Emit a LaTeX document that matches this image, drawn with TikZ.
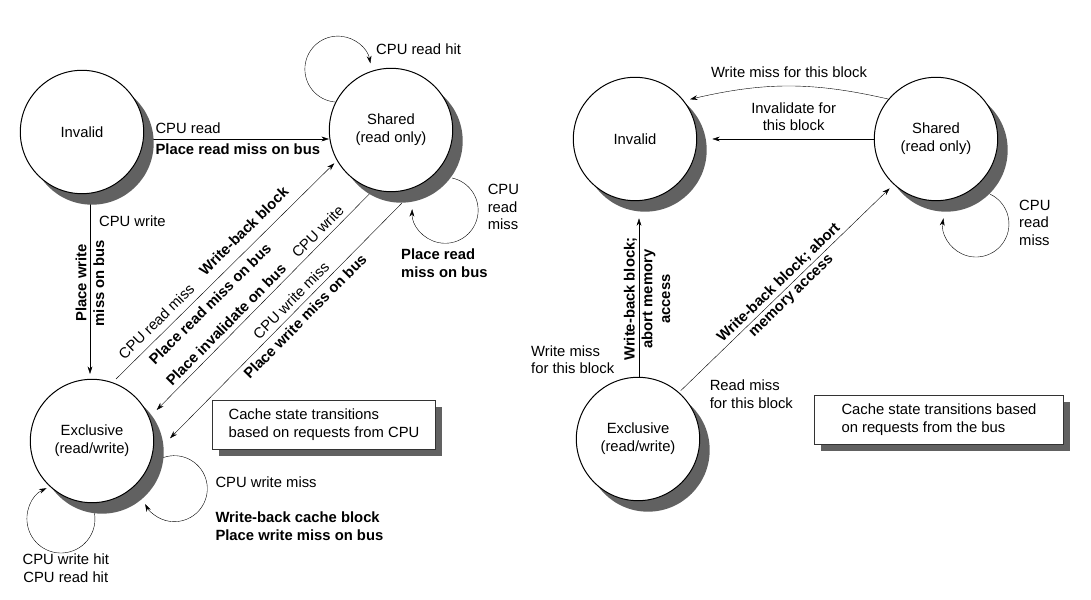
\documentclass[tikz,border=0pt]{standalone}
\usepackage{fontspec}
\setmainfont{Liberation Sans}
\usepackage{tikz}
\usetikzlibrary{calc,positioning,arrows.meta,shadows,backgrounds}
\definecolor{shade}{gray}{0.38}
\tikzset{
  cstate/.style={circle, draw, fill=white, minimum size=123.4pt, inner sep=0pt, align=center,
    drop shadow={shadow xshift=10pt, shadow yshift=-11pt, fill=shade, opacity=1}},
  notebox/.style={draw=black!80, fill=white, align=left, minimum height=48.6pt,
    drop shadow={shadow xshift=6.5pt, shadow yshift=-6.5pt, fill=shade, opacity=1}},
  free/.style={inner sep=0pt, align=left},
  bl/.style={font=\bfseries},
}
\begin{document}
\fontsize{14.8}{17.7}\selectfont
\begin{tikzpicture}[x=1pt, y=1pt, line width=1pt, >={Stealth[length=7.5pt,width=4.8pt]}]
\useasboundingbox (0,0) rectangle (1091,599);

% CPU side
\node[cstate] (invL) at (82,467) {Invalid};
\node[cstate] (shL) at (391,469) {Shared\\(read only)};
\node[cstate] (exL) at (92,158) {Exclusive\\(read/write)};
\node[notebox, minimum width=223.4pt] (noteL) at (324,174) {Cache state transitions\\based on requests from CPU};

% bus side
\node[cstate] (invR) at (635,460) {Invalid};
\node[cstate] (shR) at (936,460) {Shared\\(read only)};
\node[cstate] (exR) at (638,160) {Exclusive\\(read/write)};
\node[notebox, minimum width=248.6pt] (noteR) at (939,179) {Cache state transitions based\\on requests from the bus};

% free labels
\node[free, anchor=north west] (rdhitL) at (375.7,555.7) {CPU read hit};
\node[free, anchor=north west] (rdmissL) at (487.3,415.5) {CPU\\read\\miss};
\node[free, bl, anchor=north west] (plrdL) at (400.7,350.7) {Place read\\miss on bus};
\node[free, align=center, anchor=north] (wrhitL) at (65.8,45.7) {CPU write hit\\CPU read hit};
\node[free, anchor=north west] (wrmissL) at (215,122.3) {CPU write miss};
\node[free, bl, anchor=north west] (wbL) at (215,87.3) {Write-back cache block\\Place write miss on bus};
\node[free, anchor=north west] (wrmissR) at (530.7,254) {Write miss\\for this block};
\node[free, anchor=north west] (rdmissR) at (709.3,219.7) {Read miss\\for this block};
\node[free, anchor=north west] (cpumissR) at (1018.7,399.7) {CPU\\read\\miss};
\node[free, bl, align=center, rotate=90] (wbR) at (647,300) {Write-back block;\\abort memory\\access};

\begin{pgfonlayer}{background}
% CPU side transitions
\draw[->] ($(invL)+(60,-7)$) -- node[pos=.045, anchor=south west] (cpurd) {CPU read}
  node[pos=.045, anchor=north west, bl] (plrd) {Place read miss on bus} ($(shL)+(-62,-9)$);
\draw[->] ($(invL)+(8,-60)$) -- node[pos=.16, right=4pt] (cpuwr) {CPU write}
  node[midway, rotate=90, align=center, bl] (plwr) {Place write\\miss on bus} ($(exL)+(-2,67)$);
\draw[->] ($(exL)+(24,62)$) -- node[pos=.225, sloped, above=2pt] (cpurdm) {CPU read miss}
  node[pos=.635, sloped, above=5pt, bl] (wbblk) {Write-back block}
  node[pos=.39, sloped, below=2pt, bl] (plrdm) {Place read miss on bus} ($(shL)+(-56.7,-33.3)$);
\draw[<-] ($(exL)+(64.7,31)$) -- node[pos=.79, sloped, above] (cpuwr2) {CPU write}
  node[pos=.36, sloped, above, bl] (plinv) {Place invalidate on bus} ($(shL)+(-21,-63.3)$);
\draw[<-] ($(exL)+(78,2.7)$) -- node[pos=.555, sloped, above] (cpuwrm) {CPU write miss}
  node[pos=.55, sloped, below, bl] (plwrm) {Place write miss on bus} ($(shL)+(10.7,-73.3)$);

% CPU side loops
\draw[->] ($(shL)+(-56,28)$) arc[start angle=265, end angle=10, radius=33];
\draw[->] ($(shL)+(61,-48)$) arc[start angle=78, end angle=-182, radius=33];
\draw[->] ($(exL)+(1.8,-69.2)$) arc[start angle=15, end angle=-245, radius=34];
\draw[->] ($(exL)+(65.8,-19.1)$) arc[start angle=120, end angle=-152, radius=33];

% bus side transitions
\draw[->] ($(shR)+(-48,40)$) to[bend right=13] node[midway, above=3pt] (wrmblk) {Write miss for this block} ($(invR)+(55,39.7)$);
\draw[->] ($(shR)+(-61,0)$) -- node[midway, above=3pt, align=center] (invblk) {Invalidate for\\this block} ($(invR)+(77.3,0)$);
\draw[->] ($(exR)+(1,62)$) -- ($(invR)+(4,-79.3)$);
\draw[->] ($(exR)+(42.7,48.3)$) -- node[midway, sloped, align=center, bl] (wbabort) {Write-back block; abort\\memory access} ($(shR)+(-46.3,-49.3)$);
\draw[->] ($(shR)+(53.9,-55.1)$) arc[start angle=65, end angle=-190, radius=33];
\end{pgfonlayer}
\end{tikzpicture}
\end{document}
